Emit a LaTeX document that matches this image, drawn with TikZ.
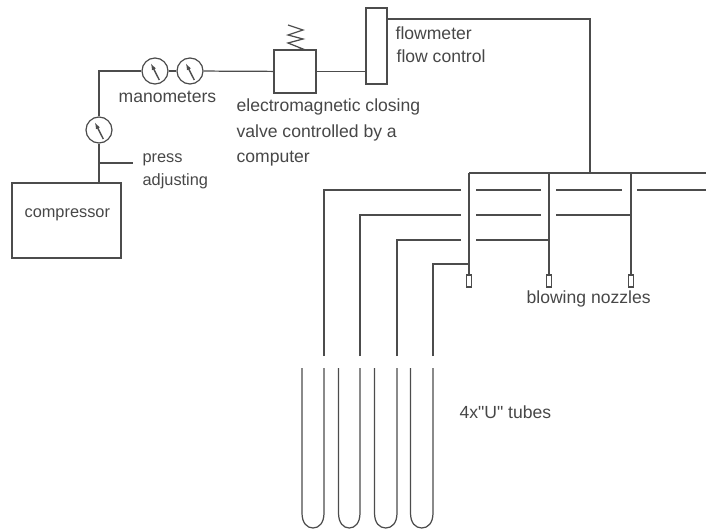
\documentclass[tikz,border=0pt]{standalone}
\usepackage{fontspec}
\setmainfont{Liberation Sans}
\newfontfamily\quotefont{Liberation Sans}
\usetikzlibrary{calc,arrows.meta}
\definecolor{pipe}{gray}{0.3}
\tikzset{
  lbl/.style={anchor=base west,inner sep=0pt,text=black!72,font=\fontsize{10}{12}\selectfont},
  lbs/.style={lbl,font=\fontsize{9.3}{11}\selectfont},
  box/.style={draw=pipe,inner sep=0pt,minimum width=#1},
  gauge/.style={draw=pipe,circle,inner sep=0pt,minimum size=26*0.02cm},
  nozzle/.style={draw=pipe,inner sep=0pt,minimum width=5*0.02cm,minimum height=12*0.02cm}
}
\begin{document}
\begin{tikzpicture}[x=0.02cm,y=-0.02cm,line width=0.7pt,draw=pipe]
    \useasboundingbox (0,0) rectangle (706,530);
    \node[box=109*0.02cm,minimum height=75*0.02cm] (C) at (66.5,220.5) {};
    \node[box=42*0.02cm,minimum height=43*0.02cm] (V) at (295,71.5) {};
    \node[box=21*0.02cm,minimum height=76*0.02cm,line width=0.9pt] (F) at (376.5,46) {};
    \node[gauge] (G) at (99,130) {};
    \node[gauge] (M1) at (155,71) {};
    \node[gauge] (M2) at (190,71) {};
    \node[nozzle] (N1) at (469,281) {};
    \node[nozzle,line width=0.9pt] (N2) at (549,281) {};
    \node[nozzle] (N3) at (631,281) {};
    \coordinate (Cc) at (99,183);
    \coordinate (K) at (99,71);
    \coordinate (P) at (99,163);
    \coordinate (Pe) at (133,163);
    \coordinate (Ft) at (387,19);
    \coordinate (Tr) at (590,19);
    \coordinate (H) at (590,173);
    \coordinate (H1) at (469,173);
    \coordinate (H2) at (549,173);
    \coordinate (H3) at (631,173);
    \coordinate (He) at (706,173);
    % line from the compressor to the flowmeter
    \draw (Cc) -- (G);
    \draw (G) -- (K) -- (M1);
    \draw (M1) -- (M2);
    \draw (M2) -- (V);
    \draw (V) -- (F.west |- V);
    \draw (P) -- (Pe);
    \foreach \g in {G,M1,M2} {
      \draw[-{Latex[length=7*0.02cm,width=4.5*0.02cm]},line width=0.8pt] ($(\g)+(4.3,9)$) -- ($(\g)+(-4.3,-8)$);
    }
    \draw (295,50) -- (303,49) -- (288,43) -- (303,39) -- (288,35) -- (303,30) -- (288,25);
    \draw[line width=1pt] (Ft) -- (Tr) -- (H);
    % header and nozzles
    \draw[line width=0.9pt] (H1) -- (He);
    \draw[line width=0.9pt] (H1) -- (N1);
    \draw[line width=1pt] (H2) -- (N2);
    \draw (H3) -- (N3);
    % feed lines
    \draw (324,356) -- (324,190) -- (461,190);
    \draw (476,190) -- (541,190);
    \draw (556,190) -- (622,190);
    \draw (637,190) -- (706,190);
    \draw (360,356) -- (360,215) -- (461,215);
    \draw (476,215) -- (541,215);
    \draw (556,215) -- (631,215);
    \draw[line width=0.9pt] (397,356) -- (397,240) -- (461,240);
    \draw[line width=0.9pt] (476,240) -- (549,240);
    \draw[line width=0.9pt] (433,356) -- (433,264) -- (469,264);
    % U tubes
    \foreach \x/\w in {302/22,338.5/21.5,374.5/22.5,410.5/22.5} {
      \draw (\x,368) -- (\x,513)
      .. controls (\x,523) and ({\x+5},528) .. ({\x+\w/2},528)
      .. controls ({\x+\w-5},528) and ({\x+\w},523) .. ({\x+\w},513)
      -- ({\x+\w},368);
    }
    \node[lbs] (Lc) at (24,217) {compressor};
    \node[lbl] (Lm) at (118,103) {manometers};
    \node[lbs] (Lp) at (142,163) {press};
    \node[lbs] (La) at (142,186) {adjusting};
    \node[lbl] (Le) at (236,112) {electromagnetic closing};
    \node[lbl] (Lv) at (236,138) {valve controlled by a};
    \node[lbl] (Lk) at (236,163) {computer};
    \node[lbl] (Lf) at (395,40) {flowmeter};
    \node[lbl] (Ls) at (396,63) {flow control};
    \node[lbl] (Lb) at (526,303) {blowing nozzles};
    \node[lbl] (Lt) at (459,418) {{\quotefont 4x"U" tubes}};
\end{tikzpicture}
\end{document}
